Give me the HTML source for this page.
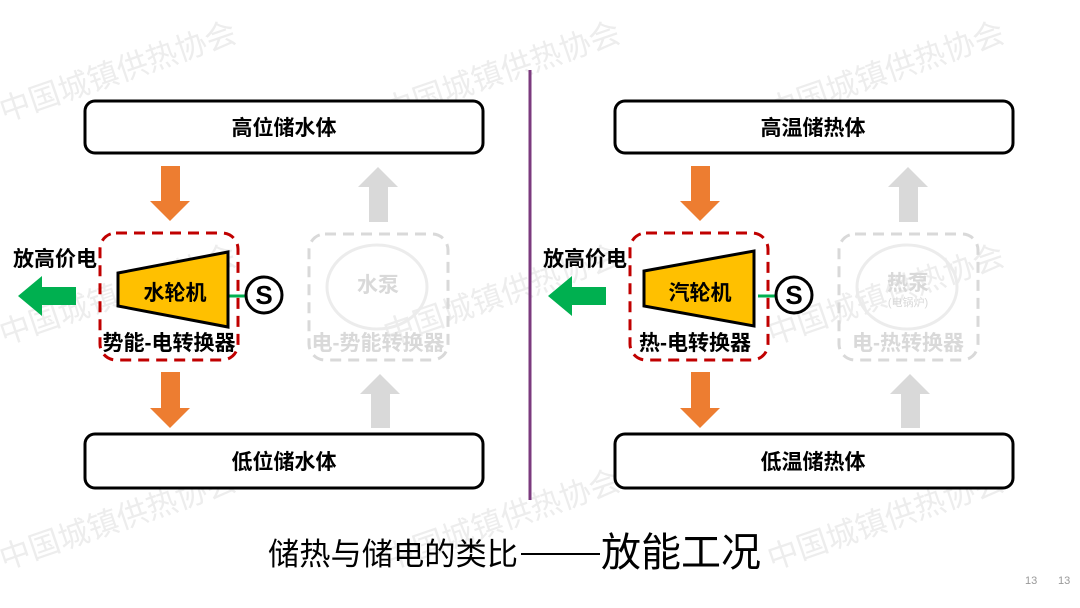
<!DOCTYPE html>
<html><head><meta charset="utf-8"><style>
html,body{margin:0;padding:0;background:#fff;}
svg{display:block;font-family:"Liberation Sans","Noto Sans CJK SC",sans-serif;}
.b{font-weight:bold;}
</style></head><body>
<svg width="1080" height="608" viewBox="0 0 1080 608" xmlns="http://www.w3.org/2000/svg">
<g fill="#ededed" font-size="31" font-family="Noto Sans CJK SC, sans-serif">
<text transform="translate(4,122) rotate(-19)">中国城镇供热协会</text>
<text transform="translate(388,122) rotate(-19)">中国城镇供热协会</text>
<text transform="translate(772,122) rotate(-19)">中国城镇供热协会</text>
<text transform="translate(4,345) rotate(-19)">中国城镇供热协会</text>
<text transform="translate(388,345) rotate(-19)">中国城镇供热协会</text>
<text transform="translate(772,345) rotate(-19)">中国城镇供热协会</text>
<text transform="translate(4,570) rotate(-19)">中国城镇供热协会</text>
<text transform="translate(388,570) rotate(-19)">中国城镇供热协会</text>
<text transform="translate(772,570) rotate(-19)">中国城镇供热协会</text>
</g>
<line x1="530" y1="70" x2="530" y2="500" stroke="#7b3a7e" stroke-width="3"/>

<g id="L">
<rect x="85" y="101" width="398" height="52" rx="10" fill="#fff" stroke="#000" stroke-width="3"/>
<rect x="85" y="434" width="398" height="54" rx="10" fill="#fff" stroke="#000" stroke-width="3"/>
<polygon points="161,166 180,166 180,201 190,201 170,221 150,201 161,201" fill="#ed7d31"/>
<polygon points="161,372 180,372 180,408 190,408 170,428 150,408 161,408" fill="#ed7d31"/>
<polygon points="369,222 388,222 388,187 398,187 378,167 358,187 369,187" fill="#d9d9d9"/>
<polygon points="371,428 390,428 390,394 400,394 380,374 360,394 371,394" fill="#d9d9d9"/>
<polygon points="76,287 76,305 42,305 42,316 18,296 42,276 42,287" fill="#00b050"/>
<rect x="100" y="233" width="138" height="127" rx="16" fill="none" stroke="#c00000" stroke-width="3" stroke-dasharray="11,7"/>
<rect x="309" y="234" width="139" height="126" rx="16" fill="none" stroke="#d9d9d9" stroke-width="3" stroke-dasharray="11,7"/>
<ellipse cx="377" cy="287" rx="50" ry="42" fill="none" stroke="#ececec" stroke-width="3"/>
<line x1="228" y1="296" x2="247" y2="296" stroke="#00b050" stroke-width="3"/>
<circle cx="264" cy="295" r="18" fill="#fff" stroke="#000" stroke-width="3"/>
<text x="264" y="304" font-size="26" text-anchor="middle" class="b">S</text>
</g>
<polygon points="118,273 228,252 228,327 118,306" fill="#ffc000" stroke="#000" stroke-width="3"/>
<polygon points="644,271 754,251 754,326 644,306" fill="#ffc000" stroke="#000" stroke-width="3"/>
<use href="#L" x="530"/>

<g class="b" font-size="21" text-anchor="middle">
<text x="284" y="135">高位储水体</text>
<text x="284" y="469">低位储水体</text>
<text x="813" y="135">高温储热体</text>
<text x="813" y="469">低温储热体</text>
<text x="175" y="300">水轮机</text>
<text x="700" y="300">汽轮机</text>
<text x="169" y="350">势能-电转换器</text>
<text x="695" y="350">热-电转换器</text>
<text x="55" y="266">放高价电</text>
<text x="585" y="266">放高价电</text>
<g fill="#d9d9d9">
<text x="378" y="292">水泵</text>
<text x="378" y="350">电-势能转换器</text>
<text x="908" y="290">热泵</text>
<text x="908" y="350">电-热转换器</text>
<text x="908" y="306" font-size="11" font-weight="normal">(电锅炉)</text>
</g>
</g>
<g font-family="Noto Sans CJK SC, sans-serif">
<text x="268" y="565" font-size="31" textLength="250" lengthAdjust="spacingAndGlyphs">储热与储电的类比</text>
<line x1="521" y1="554" x2="600" y2="554" stroke="#000" stroke-width="2"/>
<text x="601" y="566" font-size="40" textLength="160" lengthAdjust="spacingAndGlyphs">放能工况</text>
</g>
<text x="1025" y="584" font-size="11" fill="#999">13</text>
<text x="1058" y="584" font-size="11" fill="#999">13</text>
</svg>
</body></html>
